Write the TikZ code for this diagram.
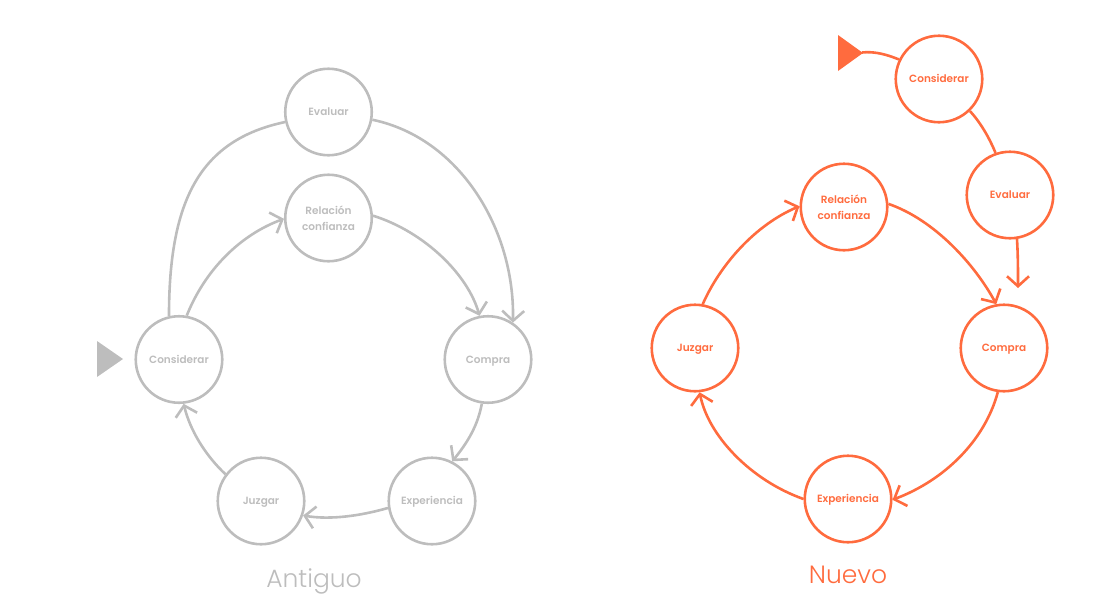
\documentclass[tikz,border=0pt]{standalone}
\usepackage{fontspec}
\setmainfont{Poppins}
\newfontfamily\labfont{Poppins}[UprightFont=* SemiBold]
\newfontfamily\titfont{Poppins}[UprightFont=* Light]
\usetikzlibrary{arrows.meta}
\definecolor{gr}{HTML}{BDBDBD}
\definecolor{og}{HTML}{FF6B3E}
\begin{document}
\begin{tikzpicture}[x=1pt,y=-1pt,
  stage/.style={circle,draw,line width=2.6pt,minimum size=86.5pt,inner sep=0pt,align=center,font=\labfont\fontsize{10.5}{15.5}\selectfont},
  one/.style={text height=7.5pt,text depth=0pt},
  link/.style={line width=2.6pt},
  arr/.style={link,-{Straight Barb[length=10pt,width=22pt,line width=2.6pt]}},
  title/.style={anchor=base,font=\titfont\fontsize{25}{30}\selectfont}]
\useasboundingbox (0,0) rectangle (1119,608);
% ---------- Antiguo ----------
\begin{scope}[color=gr]
\node[stage,one] (ev1) at (328.5,112) {Evaluar};
\node[stage] (re1) at (328.5,218) {Relación\\confianza};
\node[stage,one] (co1) at (179,359.5) {Considerar};
\node[stage,one] (cp1) at (488,359.5) {Compra};
\node[stage,one] (ju1) at (261,501) {Juzgar};
\node[stage,one] (ex1) at (432,501) {Experiencia};
\fill[gr] (97,341) -- (97,377) -- (123,359) -- cycle;
\draw[link] (co1.103) .. controls (169,200) and (200,140) .. (ev1.193);
\draw[arr] (ev1.350) .. controls (460,138) and (515,230) .. (cp1.56);
\draw[arr] (co1.80) .. controls (205,270) and (240,235) .. (re1.181);
\draw[arr] (re1.3) .. controls (425,232) and (468,275) .. (cp1.101);
\draw[arr] (cp1.262) .. controls (478,425) and (468,442) .. (ex1.63);
\draw[arr] (ex1.189) .. controls (360,516) and (330,520) .. (ju1.341);
\draw[arr] (ju1.143) .. controls (205,455) and (190,430) .. (co1.276);
\node[title,text=gr] (t1) at (314,587) {Antiguo};
\end{scope}
% ---------- Nuevo ----------
\begin{scope}[color=og]
\node[stage,one] (co2) at (939,79) {Considerar};
\node[stage,one] (ev2) at (1010,195) {Evaluar};
\node[stage] (re2) at (844,207) {Relación\\confianza};
\node[stage,one] (cp2) at (1004,348) {Compra};
\node[stage,one] (ju2) at (695,348) {Juzgar};
\node[stage,one] (ex2) at (848,499) {Experiencia};
\fill[og] (838,35) -- (838,71) -- (863,53) -- cycle;
\coordinate (st2) at (862,52.5);
\coordinate (end2) at (1018,288);
\draw[link] (st2) .. controls (875,51) and (888,55) .. (co2.154);
\draw[link] (co2.314) .. controls (980,122) and (989,137) .. (ev2.109);
\draw[arr] (ev2.279) .. controls (1018,255) and (1018,270) .. (end2);
\draw[arr] (ju2.80) .. controls (720,265) and (755,225) .. (re2.179);
\draw[arr] (re2.4) .. controls (935,220) and (975,265) .. (cp2.100);
\draw[arr] (cp2.262) .. controls (985,440) and (945,480) .. (ex2.359);
\draw[arr] (ex2.180) .. controls (750,480) and (708,435) .. (ju2.276);
\node[title,text=og] (t2) at (848,583) {Nuevo};
\end{scope}
\end{tikzpicture}
\end{document}
